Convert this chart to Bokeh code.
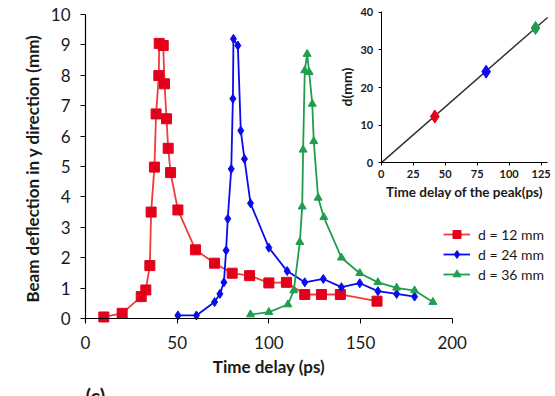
from bokeh.plotting import figure
from bokeh.models import Legend, LegendItem, Label, Range1d, FixedTicker
from bokeh.layouts import column
from bokeh.embed import file_html
from bokeh.resources import INLINE

# ---- data ----
red_t = [10, 20, 30.4, 32.9, 35.1, 35.8, 37.6, 38.5, 40.0, 40.2, 42.4, 43.1, 44.2, 45.1, 46.4, 50.4, 60, 70.4, 80, 89.5, 100, 109.6, 119.6, 128.7, 139, 159]
red_y = [0.05, 0.17, 0.72, 0.94, 1.74, 3.5, 4.98, 6.73, 7.99, 9.05, 8.98, 7.72, 6.57, 5.6, 4.8, 3.57, 2.26, 1.82, 1.49, 1.41, 1.17, 1.19, 0.79, 0.79, 0.79, 0.57]

blue_t = [50.4, 60.5, 70.4, 73.3, 75.5, 76.7, 77.6, 79.5, 80.4, 80.7, 83.1, 84.7, 86.7, 90, 100, 110, 119.6, 129.7, 139.6, 149.6, 159.5, 169.7, 179.5]
blue_y = [0.1, 0.1, 0.54, 0.81, 1.19, 2.24, 3.28, 4.92, 7.23, 9.2, 8.98, 6.18, 5.25, 3.79, 2.33, 1.56, 1.19, 1.3, 1.03, 1.16, 0.9, 0.81, 0.72]

green_t = [90, 100, 110.4, 113.6, 116.9, 118.2, 118.7, 119.6, 120.9, 122.0, 123.7, 124.5, 126.9, 130, 139.6, 149.6, 159.5, 169.7, 179.5, 189.5]
green_y = [0.13, 0.21, 0.46, 0.92, 2.51, 3.68, 5.55, 8.16, 8.7, 8.1, 7.06, 5.83, 3.97, 3.33, 2.0, 1.49, 1.19, 1.01, 0.92, 0.54]

series_labels = ["d = 12 mm", "d = 24 mm", "d = 36 mm"]

peak_t = [41.9, 82.0, 120.6]
peak_d = [12.3, 24.2, 35.8]
fit_t = [0, 130]
fit_d = [0, 38.6]

x_ticks = [0, 50, 100, 150, 200]
y_ticks = list(range(0, 11))
inset_x_ticks = [0, 25, 50, 75, 100, 125]
inset_y_ticks = [0, 10, 20, 30, 40]

RED = "#E3001B"
RED_LINE = "#EE3B3B"
BLUE = "#0A0AF0"
GREEN = "#1E9E4E"
FONT = "Lato"
TXT = "#1a1a1a"

# ---- main figure: frame fills the canvas, axes pinned at 0 and limited by bounds ----
p = figure(width=555, height=396, output_backend="svg", toolbar_location=None,
           x_range=Range1d(-46.36, 256.36), y_range=Range1d(-2.566, 10.461),
           min_border_left=0, min_border_right=0, min_border_top=0, min_border_bottom=0)
p.outline_line_color = None
p.grid.visible = False
p.background_fill_color = "white"

for ax in (p.xaxis[0], p.yaxis[0]):
    ax.axis_line_color = "black"
    ax.axis_line_width = 1.2
    ax.major_tick_line_color = "black"
    ax.minor_tick_line_color = None
    ax.major_tick_in = 0
    ax.major_tick_out = 5
    ax.major_label_text_font = FONT
    ax.major_label_text_font_size = "17px"
    ax.major_label_text_color = TXT
    ax.axis_label_text_font = FONT
    ax.axis_label_text_font_style = "bold"
    ax.axis_label_text_font_size = "17px"
    ax.axis_label_text_color = TXT

p.xaxis.ticker = FixedTicker(ticks=x_ticks)
p.yaxis.ticker = FixedTicker(ticks=y_ticks)
p.xaxis.fixed_location = 0
p.yaxis.fixed_location = 0
p.xaxis.bounds = (0, 200)
p.yaxis.bounds = (-0.12, 10)
p.xaxis.major_label_standoff = 13
p.xaxis.axis_label = "Time delay (ps)"
p.xaxis.axis_label_standoff = 3
p.yaxis.major_label_standoff = 10
p.yaxis.axis_label = "Beam deflection in y direction (mm)"
p.yaxis.axis_label_standoff = 5

r_line = p.line(red_t, red_y, line_color=RED_LINE, line_width=1.8)
r_mark = p.scatter(red_t, red_y, marker="square", size=10, fill_color=RED, line_color=RED)
b_line = p.line(blue_t, blue_y, line_color=BLUE, line_width=1.8)
b_mark = p.scatter(blue_t, blue_y, marker="diamond", size=9, fill_color=BLUE, line_color=BLUE)
g_line = p.line(green_t, green_y, line_color=GREEN, line_width=1.8)
g_mark = p.scatter(green_t, green_y, marker="triangle", size=8, fill_color=GREEN, line_color=GREEN)

legend = Legend(items=[
    LegendItem(label=series_labels[0], renderers=[r_line, r_mark]),
    LegendItem(label=series_labels[1], renderers=[b_line, b_mark]),
    LegendItem(label=series_labels[2], renderers=[g_line, g_mark]),
], location=(443, 112), padding=0, margin=0, spacing=0,
    glyph_width=27, glyph_height=20, label_height=20, label_standoff=8,
    border_line_alpha=0, background_fill_alpha=0,
    label_text_font=FONT, label_text_font_size="14px", label_text_color=TXT)
p.add_layout(legend, "center")

p.add_layout(Label(x=0, y=-2.14, text="(c)", text_font=FONT, text_font_style="bold",
                   text_font_size="20px", text_color=TXT, text_baseline="top", text_align="left"))

# ---- inset: frame fills its canvas too ----
q = figure(width=225, height=200, output_backend="svg", toolbar_location=None,
           x_range=Range1d(-39.6, 136.2), y_range=Range1d(-10.0, 43.1),
           min_border_left=0, min_border_right=0, min_border_top=0, min_border_bottom=0)
q.outline_line_color = None
q.grid.visible = False
q.background_fill_alpha = 0
q.border_fill_alpha = 0
for ax in (q.xaxis[0], q.yaxis[0]):
    ax.axis_line_color = "black"
    ax.major_tick_line_color = "black"
    ax.minor_tick_line_color = None
    ax.major_tick_in = 0
    ax.major_tick_out = 3
    ax.major_label_text_font = FONT
    ax.major_label_text_font_style = "bold"
    ax.major_label_text_font_size = "11px"
    ax.major_label_text_color = TXT
    ax.axis_label_text_font = FONT
    ax.axis_label_text_font_style = "bold"
    ax.axis_label_text_color = TXT
q.xaxis.axis_label_text_font_size = "13.5px"
q.yaxis.axis_label_text_font_size = "14px"
q.xaxis.fixed_location = 0
q.yaxis.fixed_location = 0
q.xaxis.bounds = (0, 130)
q.yaxis.bounds = (0, 40.2)
q.xaxis.ticker = FixedTicker(ticks=inset_x_ticks)
q.yaxis.ticker = FixedTicker(ticks=inset_y_ticks)
q.xaxis.major_label_standoff = 4
q.xaxis.axis_label_standoff = 3
q.yaxis.major_label_standoff = 5
q.yaxis.axis_label_standoff = 3
q.xaxis.axis_label = "Time delay of the peak(ps)"
q.yaxis.axis_label = "d(mm)"
q.line(fit_t, fit_d, line_color="#333333", line_width=1.5)
q.scatter(peak_t, peak_d, marker="diamond", size=13,
          fill_color=[RED, BLUE, GREEN], line_color=[RED, BLUE, GREEN])
q.styles = {"position": "absolute", "left": "330px", "top": "0px", "z-index": "2"}

layout = column(p, q, styles={"position": "relative"})
open("out.html", "w").write(file_html(layout, INLINE))
